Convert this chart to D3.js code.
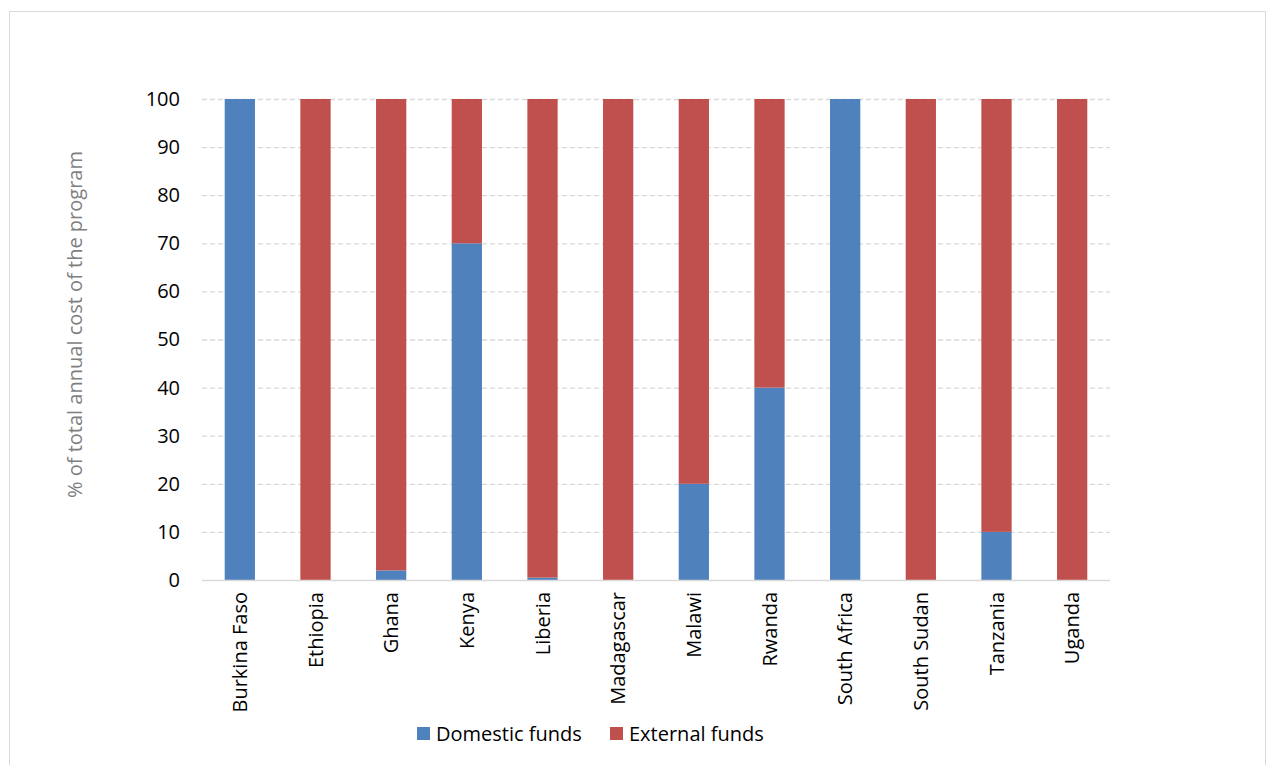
<!DOCTYPE html>
<html>
<head>
<meta charset="utf-8">
<script src="https://cdn.jsdelivr.net/npm/d3@7"></script>
<style>
  html, body { margin: 0; padding: 0; background: #fff; }
  svg { display: block; font-family: "Open Sans", sans-serif; }
</style>
</head>
<body>
<svg id="chart" width="1275" height="765"></svg>
<script>
const countries = ["Burkina Faso", "Ethiopia", "Ghana", "Kenya", "Liberia", "Madagascar",
  "Malawi", "Rwanda", "South Africa", "South Sudan", "Tanzania", "Uganda"];
const domesticFunds = [100, 0, 2, 70, 0.5, 0, 20, 40, 100, 0, 10, 0];
const externalFunds = [0, 100, 98, 30, 99.5, 100, 80, 60, 0, 100, 90, 100];
const yTicks = [0, 10, 20, 30, 40, 50, 60, 70, 80, 90, 100];
const seriesNames = ["Domestic funds", "External funds"];
const seriesColors = ["#4f81bd", "#c0504d"];

const FONT = "'Open Sans', sans-serif";
const FS = 20;

const svg = d3.select("#chart");

// outer chart frame
svg.append("rect").attr("x", 9.5).attr("y", 11.5).attr("width", 1256).attr("height", 770)
  .attr("fill", "none").attr("stroke", "#d9d9d9").attr("stroke-width", 1);

const plot = { left: 202, right: 1110, top: 99, bottom: 580 };

const x = d3.scaleBand().domain(countries).range([plot.left, plot.right]).paddingInner(0.6).paddingOuter(0.3);
const y = d3.scaleLinear().domain([0, 100]).range([plot.bottom, plot.top]);

// gridlines
svg.append("g").selectAll("line").data(yTicks.filter(d => d > 0)).join("line")
  .attr("x1", plot.left).attr("x2", plot.right)
  .attr("y1", d => y(d) + 0.5).attr("y2", d => y(d) + 0.5)
  .attr("stroke", "#d9d9d9").attr("stroke-width", 1.3).attr("stroke-dasharray", "5,3");

const rows = countries.map((c, i) => ({ country: c, domestic: domesticFunds[i], external: externalFunds[i] }));
const stack = d3.stack().keys(["domestic", "external"])(rows);

svg.append("g").selectAll("g").data(stack).join("g")
  .attr("fill", (d, i) => seriesColors[i])
  .selectAll("rect").data(d => d).join("rect")
  .attr("x", d => x(d.data.country))
  .attr("width", x.bandwidth())
  .attr("y", d => y(d[1]))
  .attr("height", d => y(d[0]) - y(d[1]));

// x axis line
svg.append("line").attr("x1", plot.left).attr("x2", plot.right)
  .attr("y1", plot.bottom + 0.5).attr("y2", plot.bottom + 0.5)
  .attr("stroke", "#d9d9d9").attr("stroke-width", 1.5);

// y axis labels
const yAxis = d3.axisLeft(y).tickValues(yTicks).tickSize(0).tickPadding(0);
const yg = svg.append("g").attr("transform", `translate(${plot.left - 22},0)`).call(yAxis);
yg.select(".domain").remove();
yg.selectAll("text").attr("font-size", FS).attr("fill", "#000").attr("font-family", FONT);

// x axis labels (rotated)
const xAxis = d3.axisBottom(x).tickSize(0).tickPadding(0);
const xg = svg.append("g").attr("transform", `translate(0,${plot.bottom})`).call(xAxis);
xg.select(".domain").remove();
xg.selectAll("text")
  .attr("font-size", FS).attr("fill", "#000").attr("font-family", FONT)
  .attr("transform", "rotate(-90)")
  .attr("x", -12).attr("y", 0).attr("dy", "0.35em")
  .attr("text-anchor", "end");

// y axis title
svg.append("text")
  .attr("transform", `translate(75,${(plot.top + plot.bottom) / 2 - 15}) rotate(-90)`)
  .attr("text-anchor", "middle").attr("dy", "0.35em").attr("font-size", FS).attr("fill", "#7f7f7f")
  .text("% of total annual cost of the program");

// legend
const legendX = [417, 610];
const legend = svg.append("g");
seriesNames.forEach((name, i) => {
  legend.append("rect").attr("x", legendX[i]).attr("y", 727).attr("width", 13).attr("height", 13)
    .attr("fill", seriesColors[i]);
  legend.append("text").attr("x", legendX[i] + 19).attr("y", 734).attr("dy", "0.35em")
    .attr("font-size", FS).attr("fill", "#000").text(name);
});
</script>
</body>
</html>
